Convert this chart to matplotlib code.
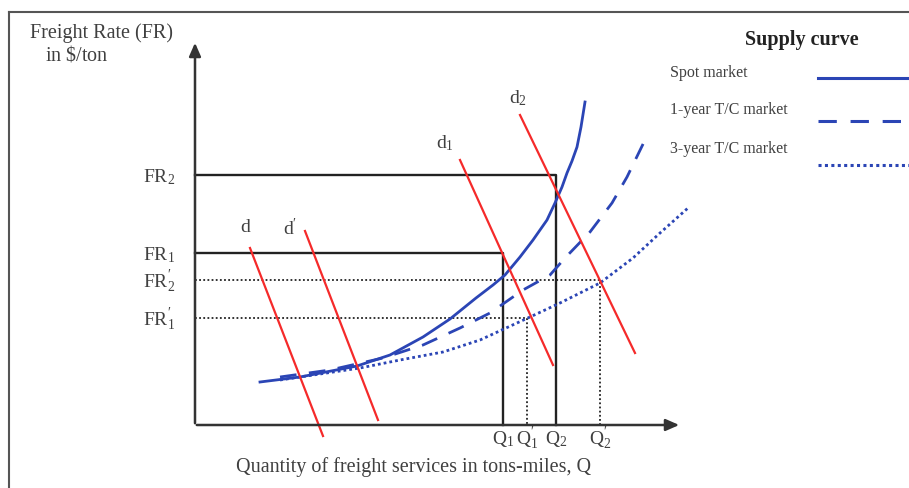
"""
Freight rate vs quantity: spot and time-charter supply curves with demand shifts.
"""
import matplotlib
matplotlib.use('Agg')
import matplotlib.pyplot as plt

# coordinates: Q along the x axis, FR along the y axis (origin at the axes corner)
# supply curves
spot_q = [65, 105, 162, 195, 228, 255, 281, 298, 310, 325, 338, 352, 360, 367,
          372, 377, 382, 386, 390]
spot_fr = [43, 48, 59, 70, 88, 106, 127, 140, 150, 168, 185, 205, 222, 238,
           252, 264, 278, 298, 323]
tc1_q = [85, 135, 188, 228, 265, 295, 328, 355, 370, 395, 417, 432, 450]
tc1_fr = [48, 55, 67, 80, 97, 112, 135, 150, 167, 193, 222, 248, 285]
tc3_q = [85, 165, 205, 248, 285, 335, 365, 405, 438, 465, 493]
tc3_fr = [45, 57, 65, 73, 85, 108, 122, 142, 167, 192, 217]

# demand lines (start, end)
demand_names = ['d', r"d$^{\prime}$", 'd$_1$', 'd$_2$']
demand_q = [(55, 128), (110, 183), (265, 358), (325, 440)]
demand_fr = [(177, -11), (194, 5), (265, 60), (310, 72)]
demand_label_pos = [(50, 197), (95, 197), (250, 282), (323, 327)]

# equilibrium levels
fr_levels = {'FR$_2$': 250, 'FR$_1$': 172, r"FR$_2^{\prime}$": 145, r"FR$_1^{\prime}$": 107}
q_levels = {'Q$_1$': 308, r"Q$_1^{\prime}$": 332, 'Q$_2$': 361, r"Q$_2^{\prime}$": 405}

BLUE = '#2b45b5'
RED = '#f52a2a'
GREY = '#404040'

plt.rcParams['font.family'] = ['Liberation Serif', 'DejaVu Serif']
plt.rcParams['mathtext.fontset'] = 'custom'
plt.rcParams['mathtext.rm'] = 'Liberation Serif'
plt.rcParams['mathtext.it'] = 'Liberation Serif:italic'
plt.rcParams['mathtext.fallback'] = 'stix'

fig = plt.figure(figsize=(9.09, 4.88), dpi=100)
ax = fig.add_axes([0, 0, 1, 1])
ax.set_xlim(-195, 714)
ax.set_ylim(-63, 425)
ax.axis('off')

# outer frame (top and left edges visible)
ax.plot([-186, 714], [413, 413], color='#555555', lw=1.5)
ax.plot([-186, -186], [413, -63], color='#555555', lw=1.5)

# axes with arrows
ax.annotate('', xy=(0, 385), xytext=(0, -1),
            arrowprops=dict(arrowstyle='-|>,head_length=0.8,head_width=0.35',
                            color='#333333', lw=1.8))
ax.annotate('', xy=(487, 0), xytext=(-1, 0),
            arrowprops=dict(arrowstyle='-|>,head_length=0.8,head_width=0.35',
                            color='#333333', lw=1.8))

# reference lines
fr2, fr1, fr2p, fr1p = fr_levels.values()
q1, q1p, q2, q2p = q_levels.values()
ax.plot([0, q2, q2], [fr2, fr2, 0], color='#222222', lw=1.7)
ax.plot([0, q1, q1], [fr1, fr1, 0], color='#222222', lw=1.7)
ax.plot([0, q2p, q2p], [fr2p, fr2p, 0], color='#222222', lw=1.3, linestyle=(0, (1, 1.3)))
ax.plot([0, q1p, q1p], [fr1p, fr1p, 0], color='#222222', lw=1.3, linestyle=(0, (1, 1.3)))

# supply curves
ax.plot(spot_q, spot_fr, color=BLUE, lw=2, solid_joinstyle='round')
ax.plot(tc1_q, tc1_fr, color=BLUE, lw=2, linestyle=(0, (6, 4.5)))
ax.plot(tc3_q, tc3_fr, color=BLUE, lw=2, linestyle=(0, (1, 1.1)))

# demand lines
for name, qs, frs, pos in zip(demand_names, demand_q, demand_fr, demand_label_pos):
    ax.plot(qs, frs, color=RED, lw=1.6)
    ax.text(pos[0], pos[1], name, fontsize=14, color=GREY, ha='center', va='center')

# axis tick labels
for label, val in fr_levels.items():
    ax.text(-20, val - 2, label, fontsize=14, color=GREY, ha='right', va='center')
for label, val in q_levels.items():
    ax.text(val, -14, label, fontsize=14, color=GREY, ha='center', va='center')

# axis titles
ax.text(-165, 392, 'Freight Rate (FR)', fontsize=14.5, color=GREY, ha='left', va='center')
ax.text(-150, 370, 'in $\\$$/ton', fontsize=14.5, color=GREY, ha='left', va='center')
ax.text(219, -42, 'Quantity of freight services in tons-miles, Q', fontsize=14.5,
        color=GREY, ha='center', va='center')

# legend
ax.text(607, 385, 'Supply curve', fontsize=14.5, fontweight='bold', color='#222222',
        ha='center', va='center')
legend_items = [('Spot market', '-', 352, 347, 714),
                ('1-year T/C market', (0, (6, 4.5)), 315, 304, 706),
                ('3-year T/C market', (0, (1, 1.1)), 276, 260, 714)]
for label, ls, ty, ly, x_end in legend_items:
    ax.text(475, ty, label, fontsize=11.5, color=GREY, ha='left', va='center')
    ax.plot([623, x_end], [ly, ly], color=BLUE, lw=2.2, linestyle=ls)

fig.savefig('out.png', dpi=100)
